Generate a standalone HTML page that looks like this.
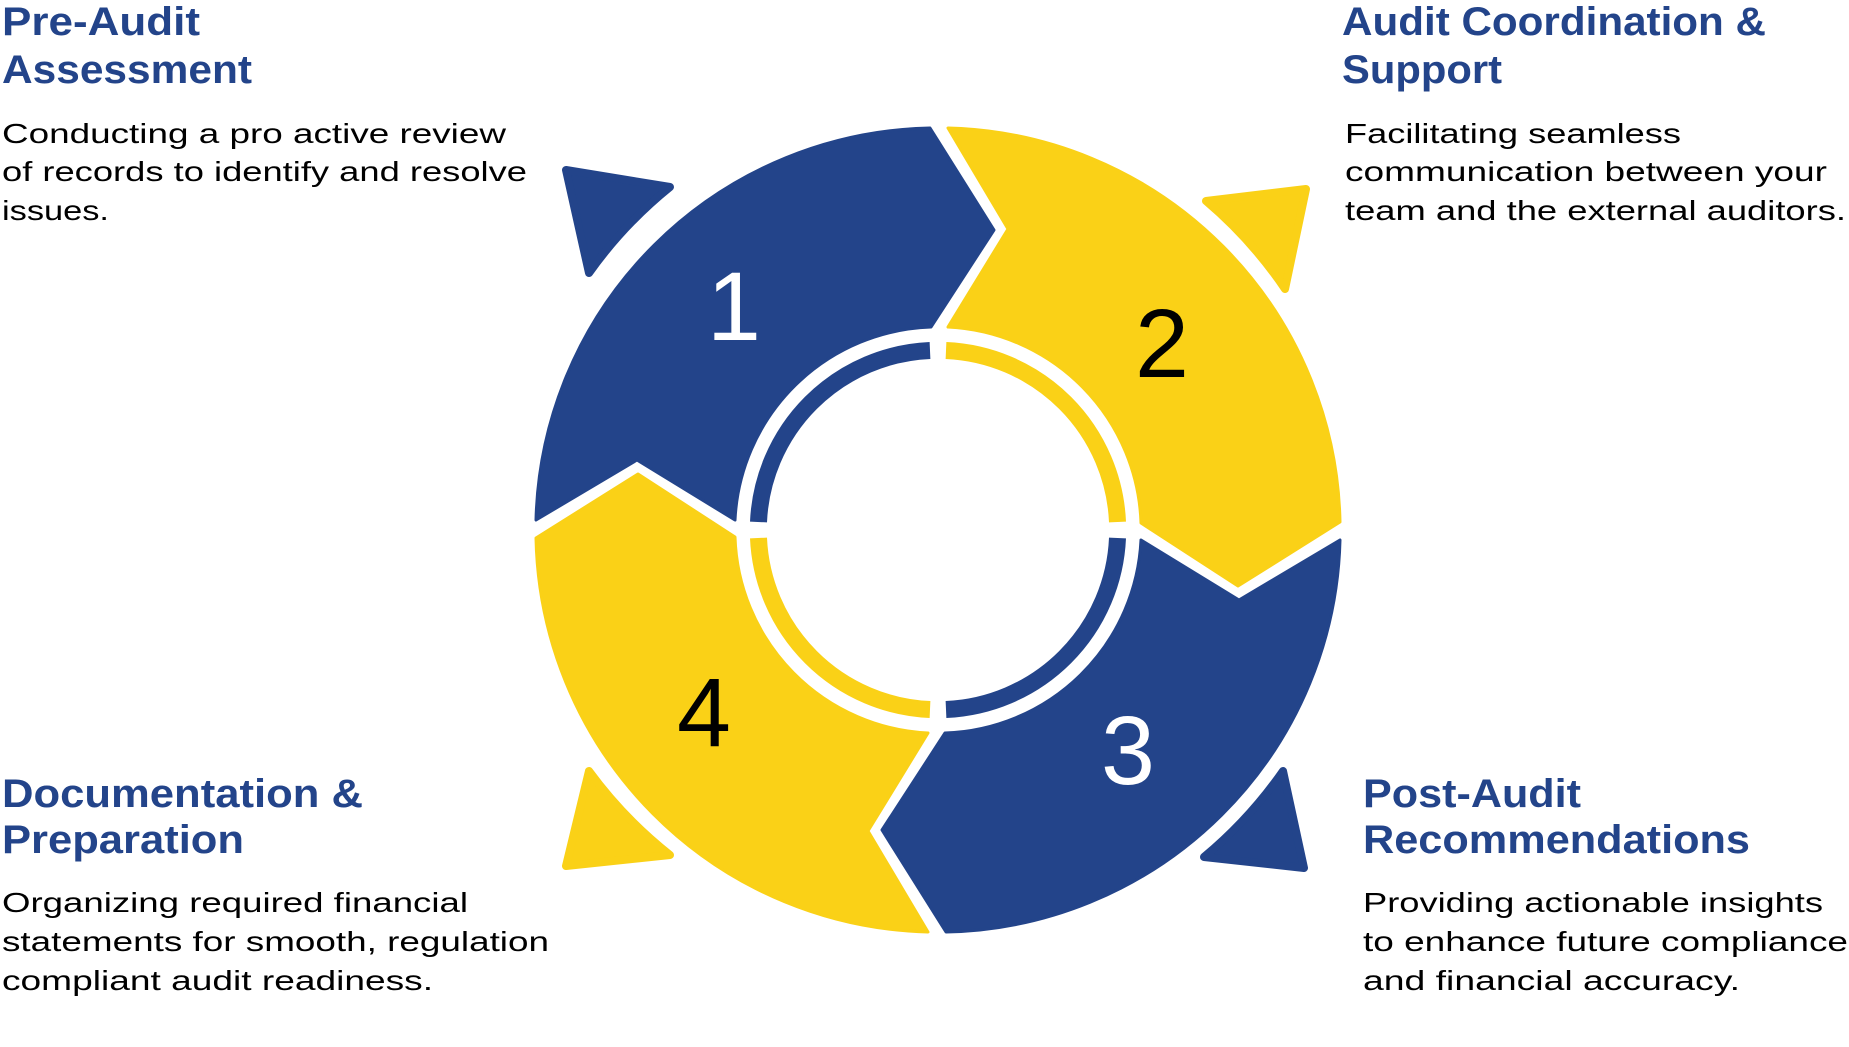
<!DOCTYPE html>
<html><head><meta charset="utf-8"><style>
html,body{margin:0;padding:0;background:#fff;}
svg{display:block;}
.t{font-family:"Liberation Sans",sans-serif;font-weight:bold;font-size:40px;fill:#23448A;}
.b{font-family:"Liberation Sans",sans-serif;font-size:28px;fill:#000;}
.n{font-family:"Liberation Sans",sans-serif;font-size:97px;text-anchor:middle;}
</style></head><body>
<svg width="1849" height="1047" viewBox="0 0 1849 1047" xmlns="http://www.w3.org/2000/svg">
<g transform="translate(938,530)">
  <defs>
    <path id="seg" d="M -402,-10 A 402 402 0 0 1 -8,-402 L 56,-300 L -7,-203 A 203 203 0 0 0 -203,-10 L -301,-70 Z"/>
  </defs>
  <use href="#seg" fill="#23448A" stroke="#23448A" stroke-width="3" stroke-linejoin="round"/>
  <use href="#seg" fill="#FAD117" stroke="#FAD117" stroke-width="3" stroke-linejoin="round" transform="rotate(90)"/>
  <use href="#seg" fill="#23448A" stroke="#23448A" stroke-width="3" stroke-linejoin="round" transform="rotate(180)"/>
  <use href="#seg" fill="#FAD117" stroke="#FAD117" stroke-width="3" stroke-linejoin="round" transform="rotate(270)"/>
  <path d="M -179.5,-8 A 179.5 179.5 0 0 1 -8,-179.5" fill="none" stroke="#23448A" stroke-width="17"/>
  <path d="M 8,-179.5 A 179.5 179.5 0 0 1 179.5,-8" fill="none" stroke="#FAD117" stroke-width="17"/>
  <path d="M 179.5,8 A 179.5 179.5 0 0 1 8,179.5" fill="none" stroke="#23448A" stroke-width="17"/>
  <path d="M -8,179.5 A 179.5 179.5 0 0 1 -179.5,8" fill="none" stroke="#FAD117" stroke-width="17"/>
</g>
<path d="M 670,187 L 566,170 L 589,273 A 435 435 0 0 1 670,187 Z" fill="#23448A" stroke="#23448A" stroke-width="8" stroke-linejoin="round"/>
<path d="M 1206,201 L 1306,189 L 1285,289 A 435 435 0 0 0 1206,201 Z" fill="#FAD117" stroke="#FAD117" stroke-width="8" stroke-linejoin="round"/>
<path d="M 589,771 L 566,866 L 670,855 A 435 435 0 0 1 589,771 Z" fill="#FAD117" stroke="#FAD117" stroke-width="8" stroke-linejoin="round"/>
<path d="M 1283,771 L 1304,868 L 1204,857 A 435 435 0 0 0 1283,771 Z" fill="#23448A" stroke="#23448A" stroke-width="8" stroke-linejoin="round"/>
<text class="n" x="734" y="340" fill="#fff">1</text>
<text class="n" x="1162" y="377" fill="#000">2</text>
<text class="n" x="1128" y="784" fill="#fff">3</text>
<text class="n" x="704" y="746" fill="#000">4</text>
<text class="t" x="2" y="35" textLength="198" lengthAdjust="spacingAndGlyphs">Pre-Audit</text>
<text class="t" x="2" y="83" textLength="250" lengthAdjust="spacingAndGlyphs">Assessment</text>
<text class="b" x="2" y="143" textLength="504" lengthAdjust="spacingAndGlyphs">Conducting a pro active review</text>
<text class="b" x="2" y="181" textLength="525" lengthAdjust="spacingAndGlyphs">of records to identify and resolve</text>
<text class="b" x="2" y="220" textLength="107" lengthAdjust="spacingAndGlyphs">issues.</text>
<text class="t" x="1342" y="35" textLength="424" lengthAdjust="spacingAndGlyphs">Audit Coordination &amp;</text>
<text class="t" x="1342" y="83" textLength="160" lengthAdjust="spacingAndGlyphs">Support</text>
<text class="b" x="1345" y="143" textLength="336" lengthAdjust="spacingAndGlyphs">Facilitating seamless</text>
<text class="b" x="1345" y="181" textLength="482" lengthAdjust="spacingAndGlyphs">communication between your</text>
<text class="b" x="1345" y="220" textLength="501" lengthAdjust="spacingAndGlyphs">team and the external auditors.</text>
<text class="t" x="2" y="807" textLength="361" lengthAdjust="spacingAndGlyphs">Documentation &amp;</text>
<text class="t" x="2" y="853" textLength="242" lengthAdjust="spacingAndGlyphs">Preparation</text>
<text class="b" x="2" y="912" textLength="466" lengthAdjust="spacingAndGlyphs">Organizing required financial</text>
<text class="b" x="2" y="951" textLength="547" lengthAdjust="spacingAndGlyphs">statements for smooth, regulation</text>
<text class="b" x="2" y="990" textLength="431" lengthAdjust="spacingAndGlyphs">compliant audit readiness.</text>
<text class="t" x="1363" y="807" textLength="218" lengthAdjust="spacingAndGlyphs">Post-Audit</text>
<text class="t" x="1363" y="853" textLength="387" lengthAdjust="spacingAndGlyphs">Recommendations</text>
<text class="b" x="1363" y="912" textLength="460" lengthAdjust="spacingAndGlyphs">Providing actionable insights</text>
<text class="b" x="1363" y="951" textLength="485" lengthAdjust="spacingAndGlyphs">to enhance future compliance</text>
<text class="b" x="1363" y="990" textLength="377" lengthAdjust="spacingAndGlyphs">and financial accuracy.</text>
</svg>
</body></html>
